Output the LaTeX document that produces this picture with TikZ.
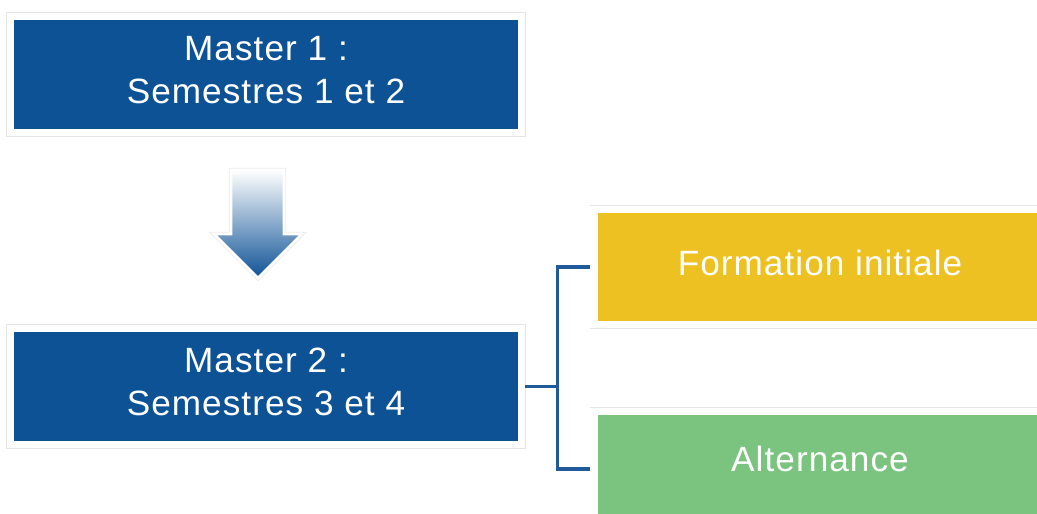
\documentclass[tikz,border=0pt]{standalone}
\usepackage{fontspec}
\setmainfont{Liberation Sans}[LetterSpace=3]
\definecolor{mblue}{RGB}{14,82,150}
\definecolor{lblue}{RGB}{31,91,155}
\definecolor{fyellow}{RGB}{236,193,33}
\definecolor{agreen}{RGB}{122,196,127}
\newcommand{\lift}[1]{\rule[-#1]{0pt}{0pt}} % extra depth, raises the text by half of it
\tikzset{
  frame/.style={draw=white, line width=4pt, preaction={draw=black!10, line width=5pt}},
  mbox/.style={frame, fill=mblue, text=white, minimum width=10.22cm, minimum height=2.32cm,
    align=center, font=\fontsize{20}{24.4}\selectfont},
  pbox/.style={frame, text=white, minimum width=9.32cm, minimum height=2.30cm,
    font=\fontsize{20}{24.4}\selectfont},
  link/.style={draw=lblue, line width=1.8pt}
}
\begin{document}
\begin{tikzpicture}
    \clip (0,0) rectangle (20.74,10.28); % Fix the page size

    \node[mbox] (m1) at (5.32,8.79) {Master 1 :\\Semestres 1 et 2\lift{0.18cm}};
    \node[mbox] (m2) at (5.32,2.55) {Master 2 :\\Semestres 3 et 4\lift{0.18cm}};

    \node[pbox,fill=fyellow] (fi)  at (16.54,4.94) {\hspace*{-0.28cm}Formation initiale\lift{0.16cm}};
    \node[pbox,fill=agreen]  (alt) at (16.54,0.90) {\hspace*{-0.28cm}Alternance\lift{0.40cm}};

    % Shaded block arrow between the two years
    \shade[top color=white, middle color=mblue!60, bottom color=mblue, draw=white, line width=1.5pt,
      preaction={draw=black!8, line width=2.5pt}]
      (4.62,6.88) -- (5.68,6.88) -- (5.68,5.60) -- (6.04,5.60) -- (5.16,4.72)
      -- (4.28,5.60) -- (4.62,5.60) -- cycle;

    % Branch to the two tracks
    \draw[link] (m2.east) -- ++(0.65,0) coordinate (fork);
    \draw[link] (fork) |- (fi.west);
    \draw[link] (fork) |- (alt.west);
\end{tikzpicture}
\end{document}
